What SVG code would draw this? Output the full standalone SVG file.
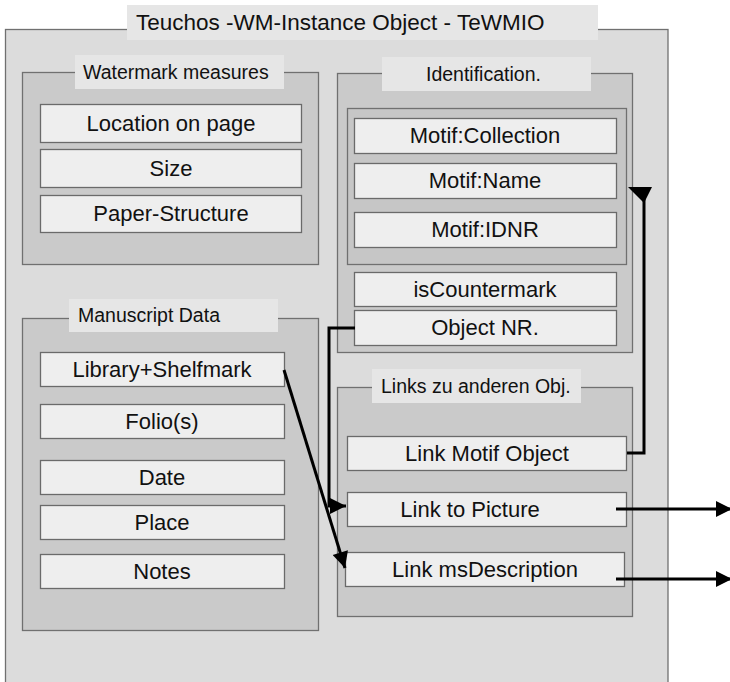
<svg xmlns="http://www.w3.org/2000/svg" width="730" height="682" viewBox="0 0 730 682">
<defs>
<style>
.outer{fill:#dcdcdc;stroke:#707070;stroke-width:1.3}
.grp{fill:#cacaca;stroke:#707070;stroke-width:1.3}
.inner{fill:#c6c6c6;stroke:#707070;stroke-width:1.3}
.item{fill:#eeeeee;stroke:#6a6a6a;stroke-width:1.3}
.lbl{fill:#e6e6e6;stroke:none}
text{font-family:"Liberation Sans",Arial,sans-serif;fill:#111}
.t{font-size:22px;text-anchor:middle}
.l{font-size:19.5px}
.c{fill:none;stroke:#000;stroke-width:3}
</style>
<marker id="ah" viewBox="0 0 10 10" refX="10" refY="5" markerUnits="userSpaceOnUse" markerWidth="22" markerHeight="16" orient="auto">
<path d="M0,0 L10,5 L0,10 z" fill="#000"/>
</marker>
</defs>
<rect width="730" height="682" fill="#ffffff"/>
<g id="tewmio">
<rect class="outer" x="5.5" y="29.5" width="662.5" height="660"/>
<rect class="lbl" x="127" y="5" width="471" height="35"/>
<text x="136" y="30" style="font-size:22.5px">Teuchos -WM-Instance Object - TeWMIO</text>
</g>
<g id="watermark-measures">
<rect class="grp" x="22.5" y="72.5" width="296" height="192"/>
<rect class="lbl" x="75" y="55" width="209" height="34"/>
<text class="l" x="83" y="79">Watermark measures</text>
</g>
<g id="location-on-page"><rect class="item" x="40.5" y="104.5" width="261" height="38"/><text class="t" x="171" y="131">Location on page</text></g>
<g id="size"><rect class="item" x="40.5" y="149.5" width="261" height="38"/><text class="t" x="171" y="176">Size</text></g>
<g id="paper-structure"><rect class="item" x="40.5" y="195.5" width="261" height="37"/><text class="t" x="171" y="221">Paper-Structure</text></g>
<g id="identification">
<rect class="grp" x="337.5" y="73.5" width="295" height="279"/>
<rect class="lbl" x="382" y="57" width="209" height="34"/>
<text class="l" x="426" y="81">Identification.</text>
<rect class="inner" x="347.5" y="108.5" width="279" height="156"/>
</g>
<g id="motif-collection"><rect class="item" x="354.5" y="118.5" width="262" height="35"/><text class="t" x="485" y="143">Motif:Collection</text></g>
<g id="motif-name"><rect class="item" x="354.5" y="163.5" width="262" height="35"/><text class="t" x="485" y="188">Motif:Name</text></g>
<g id="motif-idnr"><rect class="item" x="354.5" y="212.5" width="262" height="35"/><text class="t" x="485" y="237">Motif:IDNR</text></g>
<g id="iscountermark"><rect class="item" x="354.5" y="272.5" width="262" height="34"/><text class="t" x="485" y="297">isCountermark</text></g>
<g id="object-nr"><rect class="item" x="354.5" y="310.5" width="262" height="35"/><text class="t" x="485" y="335">Object NR.</text></g>
<g id="manuscript-data">
<rect class="grp" x="22.5" y="318.5" width="296" height="312"/>
<rect class="lbl" x="69" y="299" width="209" height="33"/>
<text class="l" x="78" y="322">Manuscript Data</text>
</g>
<g id="library-shelfmark"><rect class="item" x="40.5" y="352.5" width="244" height="34"/><text class="t" x="162" y="377">Library+Shelfmark</text></g>
<g id="folios"><rect class="item" x="40.5" y="404.5" width="244" height="34"/><text class="t" x="162" y="429">Folio(s)</text></g>
<g id="date"><rect class="item" x="40.5" y="460.5" width="244" height="34"/><text class="t" x="162" y="485">Date</text></g>
<g id="place"><rect class="item" x="40.5" y="505.5" width="244" height="34"/><text class="t" x="162" y="530">Place</text></g>
<g id="notes"><rect class="item" x="40.5" y="554.5" width="244" height="34"/><text class="t" x="162" y="579">Notes</text></g>
<g id="links">
<rect class="grp" x="337.5" y="387.5" width="295" height="229"/>
<rect class="lbl" x="372" y="369" width="209" height="34"/>
<text class="l" x="381" y="393">Links zu anderen Obj.</text>
</g>
<g id="link-motif-object"><rect class="item" x="347.5" y="436.5" width="279" height="34"/><text class="t" x="487" y="461">Link Motif Object</text></g>
<g id="link-to-picture"><rect class="item" x="347.5" y="492.5" width="279" height="34"/><text class="t" x="470" y="517">Link to Picture</text></g>
<g id="link-msdescription"><rect class="item" x="345.5" y="552.5" width="279" height="34"/><text class="t" x="485" y="577">Link msDescription</text></g>
<g id="connectors">
<path class="c" d="M355,328 H329 V506 H346" marker-end="url(#ah)"/>
<path class="c" d="M284,370 L345,568" marker-end="url(#ah)"/>
<path class="c" d="M627,453 H644 V198"/>
<polygon points="628,187 652,187 644,203" fill="#000"/>
<path class="c" d="M616,509 H732" marker-end="url(#ah)"/>
<path class="c" d="M616,579 H732" marker-end="url(#ah)"/>
</g>
</svg>
